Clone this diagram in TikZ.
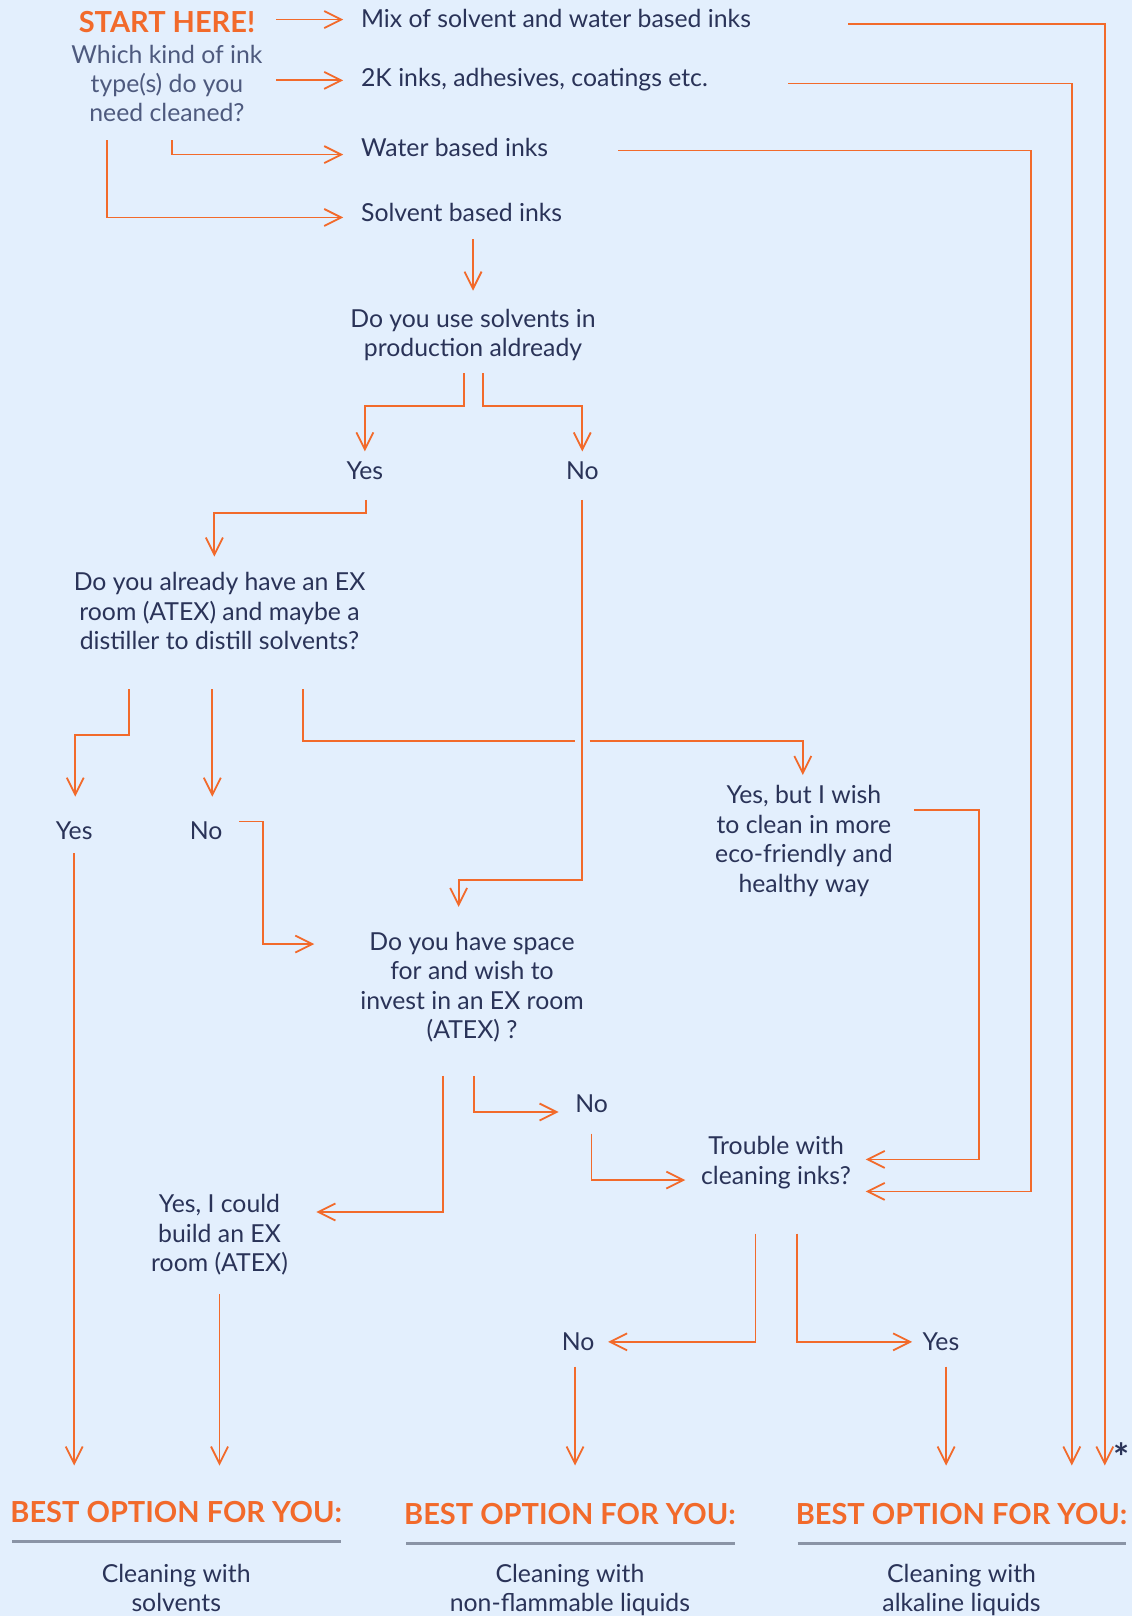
\documentclass[tikz,border=0pt]{standalone}
\usepackage{fontspec}
\setmainfont{Lato}
\usetikzlibrary{calc,arrows.meta}
\definecolor{bgblue}{HTML}{E3EFFD}
\definecolor{inkorange}{HTML}{F26A2B}
\definecolor{navy}{HTML}{2A3358}
\definecolor{slate}{HTML}{4E5A7E}
\definecolor{rulegrey}{HTML}{8A94A6}

\begin{document}
\begin{tikzpicture}[x=0.5155pt, y=-0.5155pt,
  txt/.style={inner sep=0pt, align=center, text=navy, font=\fontsize{12.4}{14.7}\selectfont},
  lead/.style={txt, anchor=west},
  head/.style={inner sep=0pt, text=inkorange, font=\fontsize{14.5}{16}\selectfont\bfseries},
  flow/.style={draw=inkorange, line width=0.9pt, -{Straight Barb[length=8.5pt,width=8.5pt]}},
  rule/.style={draw=rulegrey, line width=1.4pt}]

  % Background
  \fill[bgblue] (0,0) rectangle (1098,1568);
  \useasboundingbox (0,0) rectangle (1098,1568);

  % Start
  \node[head] (start) at (162,21) {START HERE!};
  \node[txt, text=slate] (which) at (162,81) {Which kind of ink\\type(s) do you\\need cleaned?};

  % Ink types
  \node[lead] (mix) at (350,18) {Mix of solvent and water based inks};
  \node[lead] (twok) at (350,77) {2K inks, adhesives, coatings etc.};
  \node[lead] (water) at (350,143) {Water based inks};
  \node[lead] (solvent) at (350,206) {Solvent based inks};

  % Questions and answers
  \node[txt] (useq) at (459,325) {Do you use solvents in\\production aldready};
  \node[txt] (yes1) at (354,457) {Yes};
  \node[txt] (no1) at (565,457) {No};
  \node[txt] (exq) at (213,593) {Do you already have an EX\\room (ATEX) and maybe a\\distiller to distill solvents?};
  \node[txt] (yes2) at (72,806) {Yes};
  \node[txt] (no2) at (200,806) {No};
  \node[txt] (ecoq) at (780,816) {Yes, but I wish\\to clean in more\\eco-friendly and\\healthy way};
  \node[txt] (spaceq) at (458,958) {Do you have space\\for and wish to\\invest in an EX room\\(ATEX) ?};
  \node[txt] (no3) at (574,1071) {No};
  \node[txt] (yes3) at (213,1198) {Yes, I could\\build an EX\\room (ATEX)};
  \node[txt] (trouble) at (753,1128) {Trouble with\\cleaning inks?};
  \node[txt] (no4) at (561,1302) {No};
  \node[txt] (yes4) at (913,1302) {Yes};
  \node[txt, font=\fontsize{19}{20}\selectfont\bfseries] (star) at (1088,1414) {*};

  % Best options
  \node[head] (best1) at (171,1467) {BEST OPTION FOR YOU:};
  \node[head] (best2) at (553,1469) {BEST OPTION FOR YOU:};
  \node[head] (best3) at (933,1469) {BEST OPTION FOR YOU:};
  \draw[rule] ($(best1)+(-159,29)$) -- ($(best1)+(160,29)$);
  \draw[rule] ($(best2)+(-159,29)$) -- ($(best2)+(160,29)$);
  \draw[rule] ($(best3)+(-159,29)$) -- ($(best3)+(160,29)$);
  \node[txt] (res1) at (171,1541) {Cleaning with\\solvents};
  \node[txt] (res2) at (553,1543) {Cleaning with\\non-flammable liquids};
  \node[txt] (res3) at (933,1543) {Cleaning with\\alkaline liquids};

  % From start to ink types
  \draw[flow] ($(start)+(106,-2)$) -- ($(mix.west)+(-17,1)$);
  \draw[flow] ($(which)+(106,-3)$) -- ($(twok.west)+(-17,1)$);
  \draw[flow] ($(which)+(5,55)$) |- ($(water.west)+(-17,7)$);
  \draw[flow] ($(which)+(-58,55)$) |- ($(solvent.west)+(-17,5)$);

  % Long lines on the right
  \draw[flow] ($(mix.west)+(473,5)$) -| ($(best3)+(139,-47)$);
  \draw[flow] ($(twok.west)+(415,4)$) -| ($(best3)+(107,-47)$);
  \draw[flow] ($(water.west)+(250,3)$) -| ($(trouble)+(247,28)$) -- ($(trouble)+(87,28)$);

  % Solvent branch
  \draw[flow] ($(solvent.west)+(109,26)$) -- ($(useq)+(0,-43)$);
  \draw[flow] ($(useq)+(-9,37)$) |- ($(yes1)+(0,-63)$) -- ($(yes1)+(0,-19)$);
  \draw[flow] ($(useq)+(10,37)$) |- ($(no1)+(0,-63)$) -- ($(no1)+(0,-19)$);
  \draw[flow] ($(yes1)+(1,28)$) |- ($(exq)+(-5,-95)$) -- ($(exq)+(-5,-53)$);
  \draw[flow] ($(exq)+(-88,76)$) |- ($(yes2)+(1,-93)$) -- ($(yes2)+(1,-33)$);
  \draw[flow] ($(exq)+(-7,76)$) -- ($(no2)+(6,-33)$);
  \draw[flow] ($(exq)+(81,76)$) |- ($(no1)+(-7,262)$)
    ($(no1)+(7,262)$) -| ($(ecoq)+(-1,-64)$);
  \draw[flow] ($(no1)+(0,28)$) |- ($(spaceq)+(-13,-104)$) -- ($(spaceq)+(-13,-78)$);
  \draw[flow] ($(no2)+(32,-9)$) -| ($(spaceq)+(-203,-42)$) -- ($(spaceq)+(-153,-42)$);
  \draw[flow] ($(ecoq)+(107,-30)$) -| ($(trouble)+(197,-3)$) -- ($(trouble)+(87,-3)$);

  % Space question
  \draw[flow] ($(spaceq)+(2,86)$) |- ($(no3)+(-32,8)$);
  \draw[flow] ($(spaceq)+(-28,86)$) |- ($(yes3)+(94,-22)$);
  \draw[flow] ($(no3)+(0,29)$) |- ($(trouble)+(-88,17)$);
  \draw[flow] ($(trouble)+(-20,69)$) |- ($(no4)+(29,0)$);
  \draw[flow] ($(trouble)+(20,69)$) |- ($(yes4)+(-28,0)$);

  % Down to the best options
  \draw[flow] ($(yes2)+(0,22)$) -- ($(best1)+(-99,-45)$);
  \draw[flow] ($(yes3)+(0,58)$) -- ($(best1)+(42,-45)$);
  \draw[flow] ($(no4)+(-3,24)$) -- ($(best2)+(5,-47)$);
  \draw[flow] ($(yes4)+(5,24)$) -- ($(best3)+(-15,-47)$);

\end{tikzpicture}
\end{document}
